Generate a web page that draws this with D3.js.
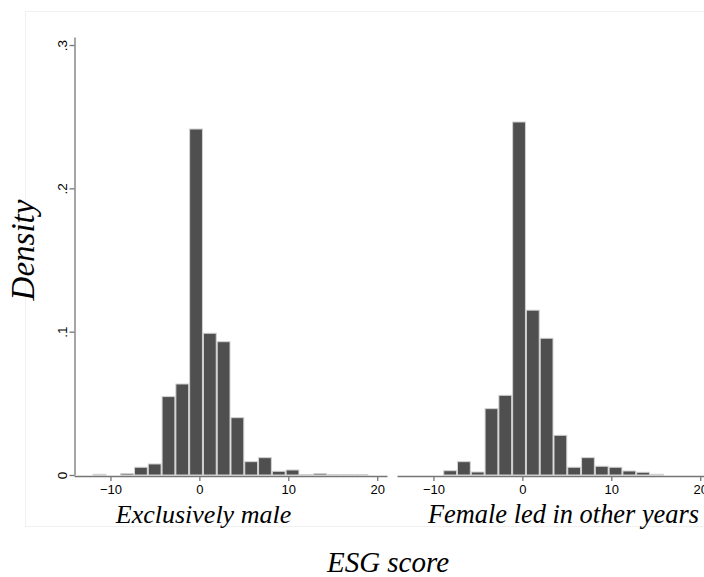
<!DOCTYPE html>
<html>
<head>
<meta charset="utf-8">
<script src="https://cdn.jsdelivr.net/npm/d3@7"></script>
<style>
  body { margin: 0; background: #fff; }
</style>
</head>
<body>
<div id="wrapper"></div>
<script>
// bins of ESG score (common to both panels)
const binStart = -12.0
const binWidth = 1.55
const panelNames = ["Exclusively male", "Female led in other years"]
const maleDensity = [0.0005, 0, 0.001, 0.0054, 0.0077, 0.0547, 0.0635, 0.2414, 0.0989, 0.093,
    0.040, 0.0093, 0.0121, 0.0026, 0.0035, 0.0003, 0.001, 0.0003, 0.0003, 0.0003]
const femaleDensity = [0, 0, 0.003, 0.0093, 0.0021, 0.0463, 0.0556, 0.2463, 0.115, 0.0954,
    0.0277, 0.0054, 0.0121, 0.0061, 0.0054, 0.0028, 0.0019, 0.0005, 0, 0]
const xTicks = [-10, 0, 10, 20]
const yTicks = [0, 0.1, 0.2, 0.3]

function drawHistograms() {
    const width = 704
    const height = 577
    const panelWidth = 313
    const panelLefts = [74, 397]
    const plotTop = 37
    const plotBottom = 475

    const svg = d3.select("#wrapper")
        .append("svg")
            .attr("width", width)
            .attr("height", height)

    // faint outer plot region
    svg.append("rect")
        .attr("x", 25.5)
        .attr("y", 11.5)
        .attr("width", 700)
        .attr("height", 515)
        .attr("fill", "none")
        .attr("stroke", "#f0f0f0")

    const xScale = d3.scaleLinear()
        .domain([-14.1, 21.1])
        .range([0, panelWidth])

    const yScale = d3.scaleLinear()
        .domain([0, 0.3056])
        .range([plotBottom, plotTop])

    const series = [maleDensity, femaleDensity]

    series.forEach((vals, p) => {
        const g = svg.append("g")
            .attr("transform", `translate(${panelLefts[p]},0)`)

        const bins = vals.map((v, i) => ({
            x0: binStart + i * binWidth,
            x1: binStart + (i + 1) * binWidth,
            value: v
        })).filter(d => d.value > 0)

        g.selectAll("rect.bar")
            .data(bins)
            .join("rect")
                .attr("class", "bar")
                .attr("x", d => xScale(d.x0) + 0.5)
                .attr("width", d => xScale(d.x1) - xScale(d.x0) - 1)
                .attr("y", d => yScale(d.value))
                .attr("height", d => yScale(0) - yScale(d.value))
                .attr("fill", "#4f4f4f")
                .attr("stroke", "#d2d2d2")
                .attr("stroke-width", 1)

        // x axis
        const xAxis = g.append("g")
            .attr("transform", `translate(0,${yScale(0) + 1})`)
            .call(d3.axisBottom(xScale)
                .tickValues(xTicks)
                .tickSize(5)
                .tickSizeOuter(0)
                .tickPadding(4)
                .tickFormat(d3.format("d")))
        xAxis.select(".domain").attr("stroke", "#767676").attr("stroke-width", 1.3)
        xAxis.selectAll(".tick line").attr("stroke", "#767676").attr("stroke-width", 1.3)
        xAxis.selectAll(".tick text")
            .attr("fill", "#000")
            .style("font-family", "Liberation Sans, Arial, sans-serif")
            .style("font-size", "13px")

        // panel subtitle
        g.append("text")
            .attr("x", p === 0 ? panelWidth / 2 - 27 : panelWidth / 2 + 10)
            .attr("y", 523)
            .attr("text-anchor", "middle")
            .style("font-family", "Liberation Serif, Times New Roman, serif")
            .style("font-style", "italic")
            .style("font-size", p === 0 ? "26px" : "26.4px")
            .text(panelNames[p])
    })

    // y axis on left panel
    const yAxis = svg.append("g")
        .attr("transform", `translate(${panelLefts[0] + 0.5},0)`)
        .call(d3.axisLeft(yScale)
            .tickValues(yTicks)
            .tickSize(5)
            .tickSizeOuter(0)
            .tickFormat(d => d === 0 ? "0" : d3.format(".1f")(d).replace(/^0/, "")))
    yAxis.select(".domain").attr("stroke", "#767676").attr("stroke-width", 1.3)
    yAxis.selectAll(".tick line").attr("stroke", "#767676").attr("stroke-width", 1.3)
    yAxis.selectAll(".tick text")
        .attr("x", null)
        .attr("dy", null)
        .attr("transform", "translate(-8,0) rotate(-90)")
        .attr("text-anchor", "middle")
        .attr("fill", "#000")
        .style("font-family", "Liberation Sans, Arial, sans-serif")
        .style("font-size", "13.5px")

    // axis titles
    svg.append("text")
        .attr("transform", "translate(34,250) rotate(-90)")
        .attr("text-anchor", "middle")
        .style("font-family", "Liberation Serif, Times New Roman, serif")
        .style("font-style", "italic")
        .style("font-size", "33px")
        .text("Density")

    svg.append("text")
        .attr("x", 388)
        .attr("y", 572)
        .attr("text-anchor", "middle")
        .style("font-family", "Liberation Serif, Times New Roman, serif")
        .style("font-style", "italic")
        .style("font-size", "29px")
        .text("ESG score")
}

drawHistograms()
</script>
</body>
</html>
